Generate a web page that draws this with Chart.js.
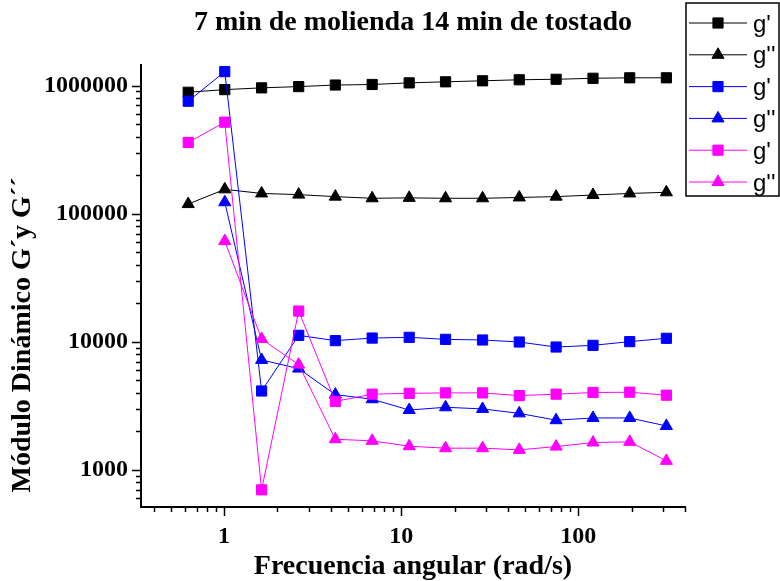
<!DOCTYPE html>
<html lang="es">
<head>
  <meta charset="UTF-8">
  <title>Módulo dinámico</title>
  <script src="https://cdn.jsdelivr.net/npm/chart.js"></script>
  <style>
    body { margin: 0; background: #fff; }
    .wrap { width: 780px; height: 581px; }
  </style>
</head>
<body>
  <div class="wrap"><canvas id="modChart"></canvas></div>

  <script>
    // angular frequency sweep (rad/s)
    const freq = [0.628, 1.01, 1.63, 2.64, 4.25, 6.86, 11.1, 17.8, 28.8, 46.4, 74.9, 121, 195, 314];

    // G' and G'' for the three samples (Pa)
    const gp1  = [887000, 930000, 960000, 982000, 1010000, 1020000, 1050000, 1070000, 1090000, 1110000, 1120000, 1140000, 1150000, 1150000];
    const gpp1 = [119000, 155000, 144000, 141000, 136000, 132000, 133000, 132000, 132000, 134000, 136000, 140000, 144000, 147000];
    const gp2  = [755000, 1285000, 4140, 11250, 10230, 10720, 10860, 10470, 10350, 9980, 9120, 9400, 10050, 10670];
    const gpp2 = [null, 123000, 7230, 6190, 3880, 3570, 2940, 3090, 3000, 2770, 2450, 2550, 2550, 2210];
    const gp3  = [360000, 518000, 701, 17400, 3430, 3910, 3970, 4000, 4000, 3810, 3910, 4030, 4050, 3840];
    const gpp3 = [null, 61200, 10550, 6650, 1740, 1690, 1535, 1482, 1482, 1438, 1525, 1640, 1660, 1180];

    // axis ticks
    const xTicks = [0.4, 0.5, 0.6, 0.7, 0.8, 0.9, 1, 2, 3, 4, 5, 6, 7, 8, 9, 10, 20, 30, 40, 50, 60, 70, 80, 90, 100, 200, 300, 400];
    const xLabels = [1, 10, 100];
    const yTicks = [600, 700, 800, 900, 1000, 2000, 3000, 4000, 5000, 6000, 7000, 8000, 9000,
      10000, 20000, 30000, 40000, 50000, 60000, 70000, 80000, 90000,
      100000, 200000, 300000, 400000, 500000, 600000, 700000, 800000, 900000, 1000000];
    const yLabels = [1000, 10000, 100000, 1000000];

    const titleText = '7 min de molienda 14 min de tostado';
    const xTitle = 'Frecuencia angular (rad/s)';
    const yTitle = 'Módulo Dinámico G´y G´´';

    const serif = "'Liberation Serif', 'Times New Roman', serif";

    function series(label, values, color, style, order) {
      return {
        label: label,
        data: values.map((v, i) => ({ x: freq[i], y: v })),
        borderColor: color,
        backgroundColor: color,
        borderWidth: 1,
        pointStyle: style,
        pointRadius: style === 'rect' ? 7.2 : 7,
        pointBorderWidth: 1,
        pointBorderColor: color,
        pointBackgroundColor: color,
        order: order
      };
    }

    // outward tick marks, long at labelled decades
    const tickMarks = {
      id: 'tickMarks',
      afterDraw(chart) {
        const ctx = chart.ctx;
        const xs = chart.scales.x, ys = chart.scales.y;
        const area = chart.chartArea;
        ctx.save();
        ctx.strokeStyle = '#000';
        ctx.lineWidth = 1.5;
        ctx.beginPath();
        xTicks.forEach(v => {
          const px = Math.round(xs.getPixelForValue(v)) + 0.5;
          const len = xLabels.includes(v) ? 9 : 5;
          ctx.moveTo(px, area.bottom);
          ctx.lineTo(px, area.bottom + len);
        });
        yTicks.forEach(v => {
          const py = Math.round(ys.getPixelForValue(v)) + 0.5;
          const len = yLabels.includes(v) ? 9 : 5;
          ctx.moveTo(area.left, py);
          ctx.lineTo(area.left - len, py);
        });
        ctx.stroke();

        // y axis title
        ctx.font = 'bold 28px ' + serif;
        ctx.fillStyle = '#000';
        ctx.textAlign = 'center';
        ctx.textBaseline = 'middle';
        ctx.translate(23, 335);
        ctx.rotate(-Math.PI / 2);
        ctx.fillText(yTitle, 0, 0);
        ctx.restore();
      }
    };

    function marker(ctx, style, x, y, r) {
      ctx.beginPath();
      if (style === 'rect') {
        const s = r * Math.SQRT1_2;
        ctx.rect(x - s, y - s, 2 * s, 2 * s);
      } else {
        ctx.moveTo(x, y - r);
        ctx.lineTo(x + r * Math.sin(2 * Math.PI / 3), y + r / 2);
        ctx.lineTo(x - r * Math.sin(2 * Math.PI / 3), y + r / 2);
        ctx.closePath();
      }
      ctx.fill();
      ctx.stroke();
    }

    // boxed legend beside the plot
    const boxLegend = {
      id: 'boxLegend',
      afterDraw(chart) {
        const ctx = chart.ctx;
        const x0 = chart.chartArea.right + 1, y0 = 3;
        ctx.save();
        ctx.strokeStyle = '#000';
        ctx.lineWidth = 1.5;
        ctx.strokeRect(x0, y0, 93, 193);
        ctx.font = "24px 'Liberation Sans', Arial, sans-serif";
        ctx.textBaseline = 'middle';
        chart.data.datasets.forEach((ds, i) => {
          const y = y0 + 20 + i * 31.8;
          ctx.strokeStyle = ds.borderColor;
          ctx.fillStyle = ds.backgroundColor;
          ctx.lineWidth = 1;
          ctx.beginPath();
          ctx.moveTo(x0 + 3, y);
          ctx.lineTo(x0 + 61, y);
          ctx.stroke();
          marker(ctx, ds.pointStyle, x0 + 32, y, ds.pointRadius);
          ctx.fillStyle = '#000';
          ctx.fillText(ds.label, x0 + 67, y + 2);
        });
        ctx.restore();
      }
    };

    new Chart(document.getElementById('modChart'), {
      type: 'line',
      data: {
        datasets: [
          series("g'", gp1, '#000000', 'rect', 6),
          series("g''", gpp1, '#000000', 'triangle', 5),
          series("g'", gp2, '#0000ff', 'rect', 4),
          series("g''", gpp2, '#0000ff', 'triangle', 3),
          series("g'", gp3, '#ff00ff', 'rect', 2),
          series("g''", gpp3, '#ff00ff', 'triangle', 1)
        ]
      },
      options: {
        responsive: true,
        maintainAspectRatio: false,
        animation: false,
        events: [],
        layout: { padding: { left: 0, right: 95, top: 0, bottom: 0 } },
        plugins: {
          legend: { display: false },
          tooltip: { enabled: false },
          title: {
            display: true,
            fullSize: false,
            text: titleText,
            color: '#000',
            font: { family: serif, size: 28, weight: 'bold' },
            padding: { top: 6, bottom: 25 }
          }
        },
        scales: {
          x: {
            type: 'logarithmic',
            position: 'bottom',
            bounds: 'data',
            min: 0.34,
            max: 400,
            afterBuildTicks: s => { s.ticks = xTicks.map(v => ({ value: v })); },
            afterFit: s => { s.height = 74; s.paddingLeft = 0; s.paddingRight = 0; },
            grid: { display: false, drawTicks: true, tickLength: 9 },
            border: { display: true, color: '#000', width: 2 },
            ticks: {
              autoSkip: false,
              maxRotation: 0,
              color: '#000',
              padding: 6,
              font: { family: serif, size: 24, weight: 'bold' },
              callback: v => xLabels.includes(v) ? String(v) : ''
            },
            title: {
              display: true,
              text: xTitle,
              color: '#000',
              font: { family: serif, size: 28, weight: 'bold' },
              padding: { top: 0, bottom: -3 }
            }
          },
          y: {
            type: 'logarithmic',
            position: 'left',
            bounds: 'data',
            min: 515,
            max: 1458000,
            afterBuildTicks: s => { s.ticks = yTicks.map(v => ({ value: v })); },
            afterFit: s => { s.width = 141; s.paddingTop = 0; s.paddingBottom = 0; },
            grid: { display: false, drawTicks: true, tickLength: 9 },
            border: { display: true, color: '#000', width: 2 },
            ticks: {
              autoSkip: false,
              color: '#000',
              padding: 4,
              font: { family: serif, size: 24, weight: 'bold' },
              callback: v => yLabels.includes(v) ? String(v) : ''
            }
          }
        }
      },
      plugins: [tickMarks, boxLegend]
    });
  </script>
</body>
</html>
